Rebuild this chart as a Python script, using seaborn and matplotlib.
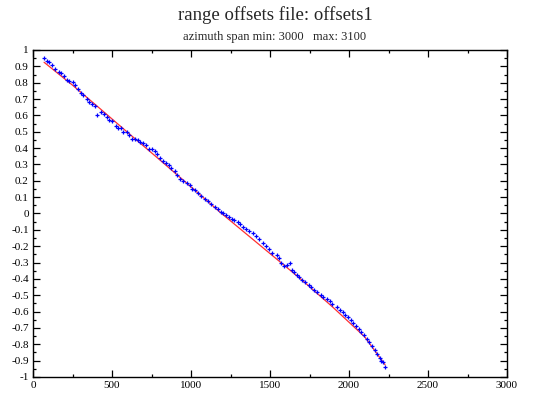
import matplotlib
matplotlib.use("Agg")
import matplotlib.pyplot as plt
import seaborn as sns
import pandas as pd
from matplotlib.ticker import MultipleLocator

# ---- data ----
offset_x = [72, 87, 101, 122, 141, 162, 179, 196, 215, 230, 251, 268, 287, 302, 319,
            344, 356, 373, 392, 407, 430, 449, 470, 483, 500, 523, 540, 555, 572, 593,
            610, 627, 646, 663, 677, 694, 715, 734, 753, 770, 787, 806, 825, 842, 858,
            875, 897, 914, 930, 951, 973, 994, 1008, 1023, 1044, 1065, 1087, 1108, 1129,
            1150, 1171, 1190, 1205, 1220, 1243, 1259, 1272, 1297, 1310, 1327, 1348, 1369,
            1390, 1410, 1432, 1458, 1475, 1492, 1513, 1542, 1555, 1572, 1590, 1605, 1625,
            1640, 1652, 1669, 1686, 1703, 1724, 1745, 1762, 1778, 1800, 1821, 1838, 1863,
            1880, 1892, 1922, 1943, 1960, 1977, 1994, 2011, 2027, 2044, 2061, 2078, 2095,
            2112, 2129, 2146, 2163, 2180, 2195, 2204, 2216, 2228]
offset_y = [0.949, 0.933, 0.925, 0.906, 0.886, 0.867, 0.861, 0.841, 0.818, 0.812, 0.802,
            0.788, 0.760, 0.739, 0.727, 0.698, 0.680, 0.668, 0.657, 0.600, 0.621, 0.609,
            0.588, 0.572, 0.564, 0.535, 0.521, 0.521, 0.498, 0.498, 0.480, 0.454, 0.454,
            0.448, 0.439, 0.429, 0.417, 0.396, 0.396, 0.384, 0.362, 0.341, 0.323, 0.307,
            0.295, 0.280, 0.262, 0.238, 0.209, 0.200, 0.188, 0.176, 0.152, 0.144, 0.124,
            0.107, 0.090, 0.075, 0.058, 0.042, 0.030, 0.012, 0.002, -0.008, -0.019, -0.032,
            -0.040, -0.055, -0.062, -0.081, -0.097, -0.105, -0.121, -0.135, -0.158, -0.178,
            -0.199, -0.219, -0.240, -0.256, -0.272, -0.300, -0.322, -0.318, -0.300, -0.345,
            -0.360, -0.374, -0.390, -0.405, -0.420, -0.435, -0.451, -0.465, -0.478, -0.497,
            -0.509, -0.525, -0.535, -0.553, -0.570, -0.590, -0.605, -0.618, -0.635, -0.650,
            -0.668, -0.686, -0.704, -0.722, -0.745, -0.768, -0.788, -0.808, -0.835, -0.858,
            -0.885, -0.905, -0.910, -0.937]

fit_x = [70, 250, 420, 600, 800, 1000, 1200, 1400, 1550, 1700, 1900, 2100, 2228]
fit_y = [0.925, 0.785, 0.645, 0.495, 0.330, 0.163, -0.005, -0.165, -0.285, -0.405,
         -0.575, -0.755, -0.925]

x_ticks = [0, 500, 1000, 1500, 2000, 2500, 3000]
y_ticks = [1.0, 0.9, 0.8, 0.7, 0.6, 0.5, 0.4, 0.3, 0.2, 0.1, 0.0,
           -0.1, -0.2, -0.3, -0.4, -0.5, -0.6, -0.7, -0.8, -0.9, -1.0]
y_tick_labels = ["1", "0.9", "0.8", "0.7", "0.6", "0.5", "0.4", "0.3", "0.2", "0.1", "0",
                 "-0.1", "-0.2", "-0.3", "-0.4", "-0.5", "-0.6", "-0.7", "-0.8", "-0.9", "-1"]

title = "range offsets file: offsets1"
subtitle = "azimuth span min: 3000   max: 3100"

# ---- drawing ----
sns.set_theme(style="white")
plt.rcParams["font.family"] = ["Liberation Serif", "DejaVu Serif"]

fig = plt.figure(figsize=(5.5, 3.96), dpi=100)
ax = fig.add_axes([33 / 550, 1 - 377 / 396, 474 / 550, 327 / 396])

pts = pd.DataFrame({"x": offset_x, "y": offset_y})
fit = pd.DataFrame({"x": fit_x, "y": fit_y})

sns.lineplot(data=fit, x="x", y="y", sort=False, estimator=None,
             color="#ff3030", linewidth=0.9, ax=ax)
sns.scatterplot(data=pts, x="x", y="y", marker="+", color="#0000ff",
                s=10, linewidth=0.9, ax=ax, zorder=3)

ax.set_xlim(0, 3000)
ax.set_ylim(-1, 1)
ax.set_xticks(x_ticks)
ax.set_xticklabels([str(t) for t in x_ticks])
ax.set_yticks(y_ticks)
ax.set_yticklabels(y_tick_labels)
ax.xaxis.set_minor_locator(MultipleLocator(250))
ax.yaxis.set_minor_locator(MultipleLocator(0.05))
ax.set_xlabel("")
ax.set_ylabel("")

ax.tick_params(which="both", direction="in", top=True, right=True,
               bottom=True, left=True, colors="black", labelsize=8, pad=3)
ax.tick_params(which="major", length=5, width=0.9)
ax.tick_params(which="minor", length=2.5, width=0.9)
for s in ax.spines.values():
    s.set_linewidth(1.0)
    s.set_color("black")

fig.text(0.5, 1 - 15 / 396, title, ha="center", va="center", fontsize=13.5)
fig.text(0.5, 1 - 37 / 396, subtitle, ha="center", va="center", fontsize=9)

fig.savefig("out.png", dpi=100)
